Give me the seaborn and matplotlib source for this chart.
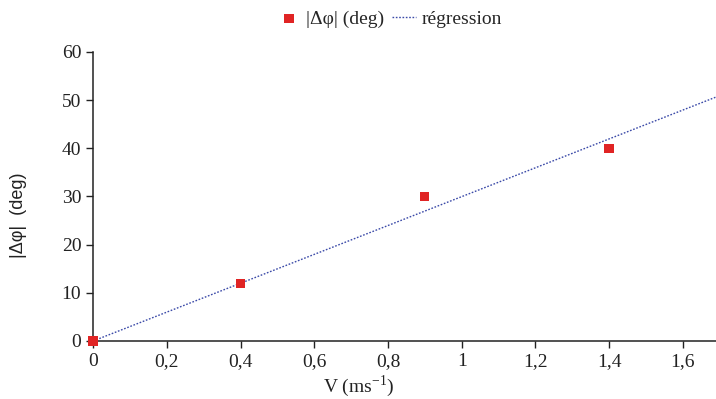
import matplotlib
matplotlib.use("Agg")
import matplotlib.pyplot as plt
import numpy as np
import pandas as pd
import seaborn as sns
from matplotlib.ticker import FuncFormatter

sns.set_theme(style="ticks")
plt.rcParams['font.family'] = ['Liberation Serif', 'DejaVu Serif']
plt.rcParams['mathtext.fontset'] = 'stix'

# données
vitesse = [0.0, 0.4, 0.9, 1.4]
dephasage = [0.0, 12.0, 30.0, 40.0]
x_ticks = [0, 0.2, 0.4, 0.6, 0.8, 1, 1.2, 1.4, 1.6]
y_ticks = [0, 10, 20, 30, 40, 50, 60]

df = pd.DataFrame({"V": vitesse, "dphi": dephasage})

# régression linéaire passant par l'origine
pente = np.sum(df.V * df.dphi) / np.sum(df.V ** 2)
x_lim = (0, 1.69)
reg = pd.DataFrame({"V": list(x_lim), "dphi": [pente * v for v in x_lim]})

fig = plt.figure(figsize=(7.16, 3.99), dpi=100)
ax = fig.add_axes([0.130, 0.1454, 0.870, 0.7243])

sns.lineplot(data=reg, x="V", y="dphi", ax=ax, color="#3b4aa8", linestyle=(0, (1.2, 1.2)),
             linewidth=1.0, label="régression", zorder=2)
sns.scatterplot(data=df, x="V", y="dphi", ax=ax, marker="s", s=45, color="#e02424",
                edgecolor="none", label="|Δφ| (deg)", zorder=3, clip_on=False)

ax.set_xlim(*x_lim)
ax.set_ylim(0, 60)
ax.set_xticks(x_ticks)
ax.set_yticks(y_ticks)
ax.xaxis.set_major_formatter(FuncFormatter(lambda v, p: f"{v:g}".replace(".", ",")))
ax.tick_params(labelsize=14, length=5, width=1, color="#222222", labelcolor="#222222")
for s in ["left", "bottom"]:
    ax.spines[s].set_color("#222222")
    ax.spines[s].set_linewidth(1.1)
sns.despine(ax=ax)

ax.set_xlabel("V (ms$^{\\mathregular{-1}}$)", fontsize=14, color="#222222")
ax.xaxis.set_label_coords(0.427, -0.112)
ax.set_ylabel("|Δφ|  (deg)", fontsize=13, color="#222222", family=["Liberation Sans", "DejaVu Sans"])
ax.yaxis.set_label_coords(-0.106, 0.436)

handles, labels = ax.get_legend_handles_labels()
order = [1, 0]
ax.legend([handles[i] for i in order], [labels[i] for i in order], loc="center",
          bbox_to_anchor=(0.476, 1.115), ncol=2, frameon=False, fontsize=14,
          handlelength=1.2, handletextpad=0.3, columnspacing=0.4, markerscale=1.0,
          borderaxespad=0, borderpad=0)

fig.savefig("out.png", dpi=100)
